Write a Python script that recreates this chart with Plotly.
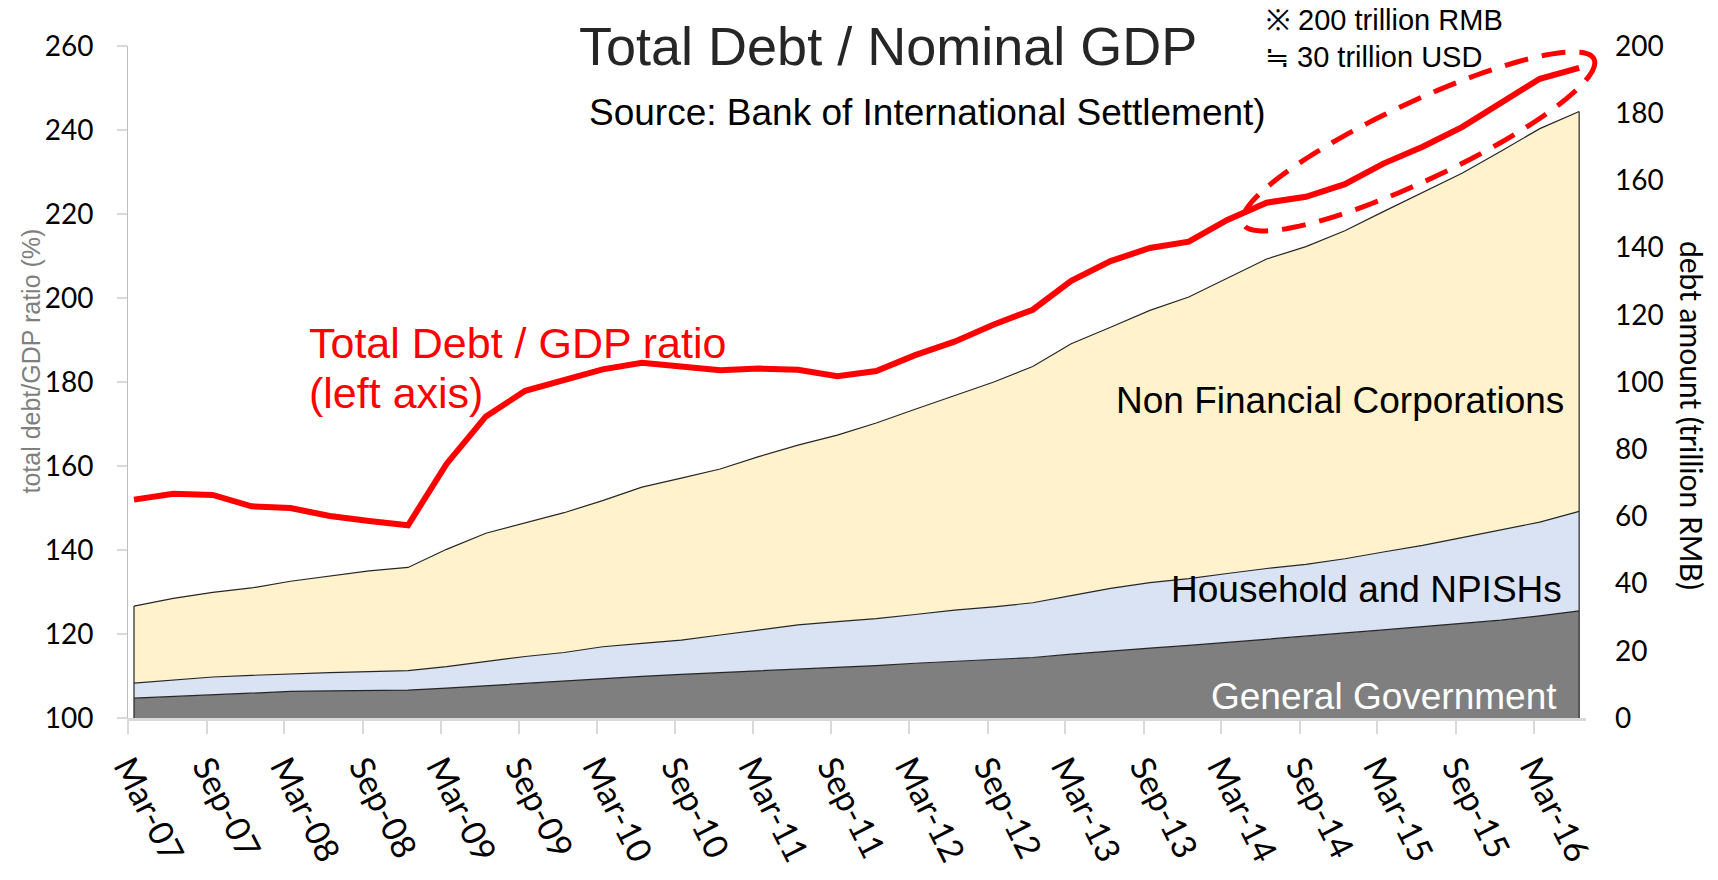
import math
import numpy as np
import plotly.graph_objects as go

# Quarter-end months, Mar-2007 .. Jun-2016 (plotted mid-month)
quarters = [f"{y}-{m:02d}-15" for y in range(2007, 2017) for m in (3, 6, 9, 12)][:38]

# Debt by sector, trillion RMB (right axis)
general_government = [5.9, 6.4, 7.1, 7.6, 7.9, 8.1, 8.2, 8.3, 8.9, 9.6, 10.4, 11.2, 11.8,
                      12.4, 13.0, 13.5, 14.0, 14.6, 15.1, 15.6, 16.3, 16.8, 17.3, 18.0, 19.0,
                      20.0, 20.8, 21.6, 22.5, 23.4, 24.2, 25.2, 26.2, 27.2, 28.2, 29.1, 30.4, 31.9]
household_npish = [4.5, 5.0, 5.1, 5.1, 5.3, 5.4, 5.6, 5.8, 6.4, 7.2, 7.9, 8.3, 9.4,
                   9.8, 10.2, 11.2, 12.2, 13.1, 13.6, 14.0, 14.5, 15.3, 15.8, 16.3, 17.4,
                   18.6, 19.5, 19.9, 20.5, 21.1, 21.5, 22.2, 23.2, 24.2, 25.5, 27.0, 27.9, 29.6]
non_financial_corp = [22.9, 24.2, 25.2, 26.0, 27.5, 28.8, 30.0, 30.7, 34.9, 38.2, 39.8, 41.6, 43.5,
                      46.5, 48.2, 49.4, 51.6, 53.5, 55.5, 58.2, 61.1, 63.8, 66.9, 70.3, 75.0,
                      77.7, 81.0, 83.8, 88.0, 92.1, 94.6, 97.6, 101.3, 104.9, 108.4, 112.6, 117.1, 119.0]

# Total debt / GDP ratio, % (left axis)
debt_to_gdp = [152.0, 153.4, 153.1, 150.4, 150.0, 148.1, 146.9, 145.9, 160.5, 171.8, 177.9, 180.5, 183.0,
               184.6, 183.8, 182.8, 183.2, 182.9, 181.4, 182.6, 186.4, 189.6, 193.7, 197.2, 204.1,
               208.8, 211.9, 213.4, 218.6, 222.7, 224.1, 227.1, 232.0, 236.0, 240.7, 246.6, 252.2, 254.8]

W, H = 1718, 880
ML, MR, MT, MB = 128, 132, 46, 160
PW, PH = W - ML - MR, H - MT - MB


def fx(px):
    return (px - ML) / PW


def fy(py):
    return (H - MB - py) / PH


OUTLINE = "#262626"
fig = go.Figure()

layers = [
    (general_government, "#7F7F7F"),
    (household_npish, "#DAE3F3"),
    (non_financial_corp, "#FFF2CC"),
]
for vals, col in layers:
    fig.add_trace(go.Scatter(
        x=quarters, y=vals, yaxis="y2", stackgroup="debt", mode="lines",
        line=dict(color=OUTLINE, width=1.2), fillcolor=col,
        hoverinfo="skip", showlegend=False))

# vertical edges of the stacked area
total = np.array(general_government) + np.array(household_npish) + np.array(non_financial_corp)
fig.add_trace(go.Scatter(
    x=[quarters[0], quarters[0], None, quarters[-1], quarters[-1]],
    y=[0, total[0], None, 0, total[-1]],
    yaxis="y2", mode="lines", line=dict(color=OUTLINE, width=1.2),
    hoverinfo="skip", showlegend=False))

fig.add_trace(go.Scatter(
    x=quarters, y=debt_to_gdp, yaxis="y", mode="lines",
    line=dict(color="#FF0000", width=6), hoverinfo="skip", showlegend=False))

# dashed ellipse highlighting the latest stretch
cx, cy, a, b, th = 1418.5, 141.7, 194.0, 39.0, math.radians(25.2)
pts = []
for k in range(121):
    p = 2 * math.pi * k / 120
    X = cx + a * math.cos(p) * math.cos(th) + b * math.sin(p) * math.sin(th)
    Y = cy - a * math.cos(p) * math.sin(th) + b * math.sin(p) * math.cos(th)
    pts.append(f"{fx(X):.5f},{fy(Y):.5f}")
ellipse_path = "M " + " L ".join(pts) + " Z"
fig.add_shape(type="path", path=ellipse_path, xref="paper", yref="paper",
              line=dict(color="#FF0000", width=5, dash="24px,14px"), layer="above")

ARIAL = "Liberation Sans, Arial, sans-serif"
CAL = "Lato, Carlito, sans-serif"


def label(text, x, y, size, color="black", xanchor="left", family=ARIAL, angle=0):
    fig.add_annotation(text=text, x=fx(x), y=fy(y), xref="paper", yref="paper",
                       xanchor=xanchor, yanchor="middle", showarrow=False,
                       textangle=angle, font=dict(family=family, size=size, color=color))


label("Total Debt / Nominal GDP", 577, 46.5, 54, color="#262626")
label("Source: Bank of International Settlement)", 587, 112.5, 37)
label("※ 200 trillion RMB", 1264, 20, 29)
label("≒ 30 trillion USD", 1263, 57, 29)
label("Total Debt / GDP ratio", 307, 343.5, 43, color="#FF0000")
label("(left axis)", 307, 394, 43, color="#FF0000")
label("Non Financial Corporations", 1566, 402, 37, xanchor="right")
label("Household and NPISHs", 1564, 591.5, 37, xanchor="right")
label("General Government", 1559, 698, 37, color="white", xanchor="right")
label("total debt/GDP ratio (%)", 31.5, 362, 25, color="#7F7F7F", xanchor="center", angle=-90)
label("debt amount (trillion RMB)", 1692, 416, 30, xanchor="center", family=CAL, angle=90)

fig.update_layout(
    width=W, height=H,
    margin=dict(l=ML, r=MR, t=MT, b=MB),
    paper_bgcolor="white", plot_bgcolor="white",
    showlegend=False,
    xaxis=dict(
        type="date", range=["2007-03-01", "2016-07-01"],
        tick0="2007-03-01", dtick="M6", tickformat="%b-%y", tickangle=63,
        ticks="outside", ticklen=13, tickwidth=2, tickcolor="#D9D9D9",
        showline=True, linecolor="#D9D9D9", linewidth=2.5,
        showgrid=False, zeroline=False,
        tickfont=dict(family=CAL, size=34, color="black")),
    yaxis=dict(
        range=[100, 260], tick0=100, dtick=20,
        ticks="outside", ticklen=10, tickwidth=1.5, tickcolor="#D9D9D9",
        showline=True, linecolor="#BFBFBF", linewidth=1,
        showgrid=False, zeroline=False, ticklabelstandoff=18,
        tickfont=dict(family=CAL, size=28, color="black")),
    yaxis2=dict(
        overlaying="y", side="right", range=[0, 200], tick0=0, dtick=20,
        ticks="", showline=False, showgrid=False, zeroline=False,
        ticklabelstandoff=28,
        tickfont=dict(family=CAL, size=28, color="black")),
)

fig.write_html("out.html")
